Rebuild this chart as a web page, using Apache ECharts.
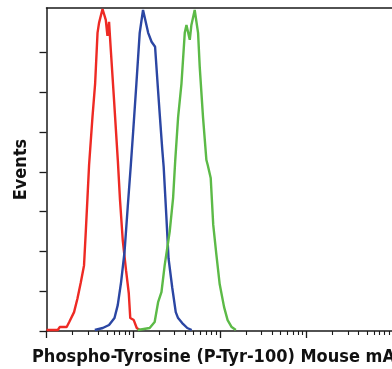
<!DOCTYPE html>
<html>
<head>
<meta charset="utf-8">
<script src="https://cdn.jsdelivr.net/npm/echarts@6/dist/echarts.min.js"></script>
<style>
  html, body { margin: 0; padding: 0; background: #fff; }
  #chart { width: 392px; height: 369px; }
</style>
</head>
<body>
<div id="chart"></div>
<script>
// Flow histogram, log intensity vs. events
const redCurve = [
  [1.0, 1], [1.35, 1], [1.42, 4], [1.71, 4], [1.83, 9], [2.08, 19], [2.28, 33], [2.49, 49],
  [2.71, 66], [2.84, 100], [2.97, 134], [3.10, 167], [3.39, 215], [3.64, 249], [3.88, 300],
  [4.04, 310], [4.43, 324], [4.62, 324], [4.83, 313], [5.05, 297], [5.27, 311], [5.52, 283],
  [6.02, 232], [6.65, 172], [7.05, 132], [7.59, 91], [8.28, 61], [8.90, 38], [9.26, 13],
  [10.16, 11], [11.0, 3], [11.9, 1]
];
const blueCurve = [
  [3.61, 1], [4.46, 3], [5.27, 6], [6.09, 13], [6.64, 26], [7.25, 49], [7.94, 79], [8.66, 125],
  [9.38, 166], [9.97, 199], [10.9, 249], [11.9, 300], [13.0, 323], [13.6, 323], [14.9, 300],
  [16.3, 291], [17.9, 286], [19.2, 247], [20.3, 217], [21.7, 182], [22.5, 165], [24.1, 117],
  [25.6, 73], [28.2, 44], [31.0, 19], [33.0, 13], [36.8, 8], [42.1, 3], [47.4, 1]
];
const greenCurve = [
  [11.3, 1], [15.5, 3], [17.7, 9], [19.4, 29], [21.2, 39], [23.1, 66], [26.4, 100], [28.9, 134],
  [30.6, 172], [33.0, 215], [36.1, 249], [39.4, 300], [41.2, 308], [43.0, 310], [45.0, 293],
  [47.0, 308], [51.3, 323], [53.7, 323], [56.1, 300], [58.6, 266], [64.0, 215], [70.0, 172],
  [72.5, 167], [78.5, 154], [83.9, 107], [90.9, 78], [99.7, 47], [112, 24], [123, 11],
  [137, 4], [153, 1]
];
const majorTicks = [1, 10, 100, 1000];
const minorTicks = [
  2, 3, 4, 5, 6, 7, 8, 9,
  20, 30, 40, 50, 60, 70, 80, 90,
  200, 300, 400, 500, 600, 700, 800, 900,
  2000, 3000, 4000, 5000, 6000, 7000, 8000, 9000
];
const eventTicks = [0, 40, 80, 120, 160, 200, 240, 280];

const axisColor = '#1a1a1a';
const labelFont = {
  fontFamily: '"DejaVu Sans Condensed", "Liberation Sans Narrow", sans-serif',
  fontWeight: 'bold',
  fontSize: 18,
  color: '#111'
};

const chart = echarts.init(document.getElementById('chart'), null, { renderer: 'canvas' });

const xBase = {
  type: 'log',
  logBase: 10,
  min: 1,
  max: 9700,
  splitLine: { show: false },
  axisLabel: { show: false },
  minorTick: { show: false }
};

function line(data, color) {
  return {
    type: 'line',
    data: data,
    showSymbol: false,
    symbol: 'none',
    smooth: false,
    lineStyle: { color: color, width: 2.4 },
    itemStyle: { color: color },
    z: 3
  };
}

chart.setOption({
  animation: false,
  grid: { left: 46.5, right: 0, top: 8, bottom: 38, containLabel: false, outerBoundsMode: 'none' },
  xAxis: [
    Object.assign({}, xBase, {
      position: 'bottom',
      axisLine: { lineStyle: { color: axisColor, width: 1.5 } },
      axisTick: { show: true, length: 7, customValues: majorTicks, lineStyle: { color: axisColor, width: 1.3 } },
      name: 'Phospho-Tyrosine (P-Tyr-100) Mouse mAb',
      nameLocation: 'middle',
      nameGap: 17,
      nameTextStyle: Object.assign({}, labelFont)
    }),
    Object.assign({}, xBase, {
      position: 'bottom',
      axisLine: { show: false },
      axisTick: { show: true, length: 4, customValues: minorTicks, lineStyle: { color: axisColor, width: 1.1 } }
    }),
    Object.assign({}, xBase, {
      position: 'top',
      axisLine: { lineStyle: { color: axisColor, width: 1.5 } },
      axisTick: { show: false }
    })
  ],
  yAxis: {
    type: 'value',
    min: 0,
    max: 325,
    interval: 40,
    splitLine: { show: false },
    axisLabel: { show: false },
    axisLine: { show: true, lineStyle: { color: axisColor, width: 1.5 } },
    axisTick: { show: true, length: 7, customValues: eventTicks, lineStyle: { color: axisColor, width: 1.3 } },
    name: 'Events',
    nameLocation: 'middle',
    nameRotate: 90,
    nameGap: 16,
    nameTextStyle: Object.assign({}, labelFont)
  },
  series: [
    line(redCurve, '#ee2a24'),
    line(blueCurve, '#2b46a3'),
    line(greenCurve, '#5cba47')
  ]
});
</script>
</body>
</html>
